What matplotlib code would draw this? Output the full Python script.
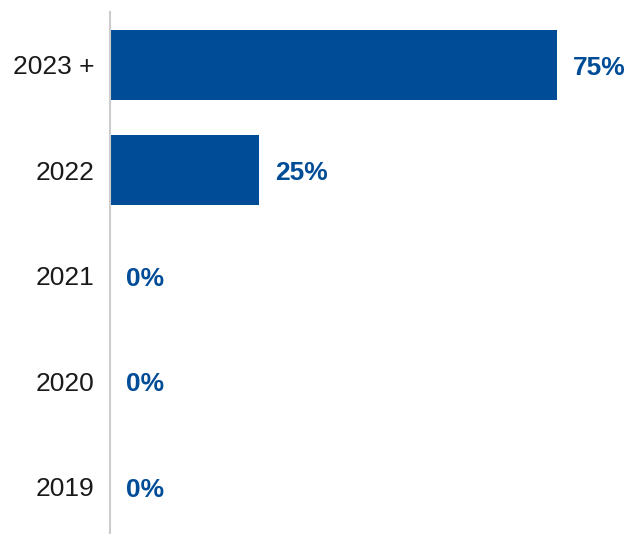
import matplotlib.pyplot as plt

# Values
categories = ["2023 +", "2022", "2021", "2020", "2019"]
shares = [75, 25, 0, 0, 0]

bar_color = "#004c97"

plt.rcParams['font.family'] = ['Liberation Sans', 'DejaVu Sans']

fig = plt.figure(figsize=(6.3, 5.34), dpi=100)
ax = fig.add_axes([110 / 630, -5.5 / 534, 1 - 110 / 630, 527.5 / 534])

y_pos = list(range(len(categories)))
ax.barh(y_pos, shares, height=0.66, color=bar_color)

# Value labels just past the bar end
for y, v in zip(y_pos, shares):
    ax.annotate(f"{v}%", xy=(v, y), xytext=(16, -3), textcoords='offset pixels',
                ha='left', va='center', fontsize=19, fontweight='bold', color=bar_color)

ax.set_yticks(y_pos)
ax.set_yticklabels(categories, fontsize=19, color='#1a1a1a')
ax.tick_params(axis='y', length=0, pad=11)
ax.set_xticks([])
ax.set_xlim(0, 87.2)
ax.set_ylim(4.5, -0.5)

for side in ['top', 'right', 'bottom']:
    ax.spines[side].set_visible(False)
ax.spines['left'].set_color('#cccccc')
ax.spines['left'].set_linewidth(1.5)

fig.savefig("out.png", dpi=100)
